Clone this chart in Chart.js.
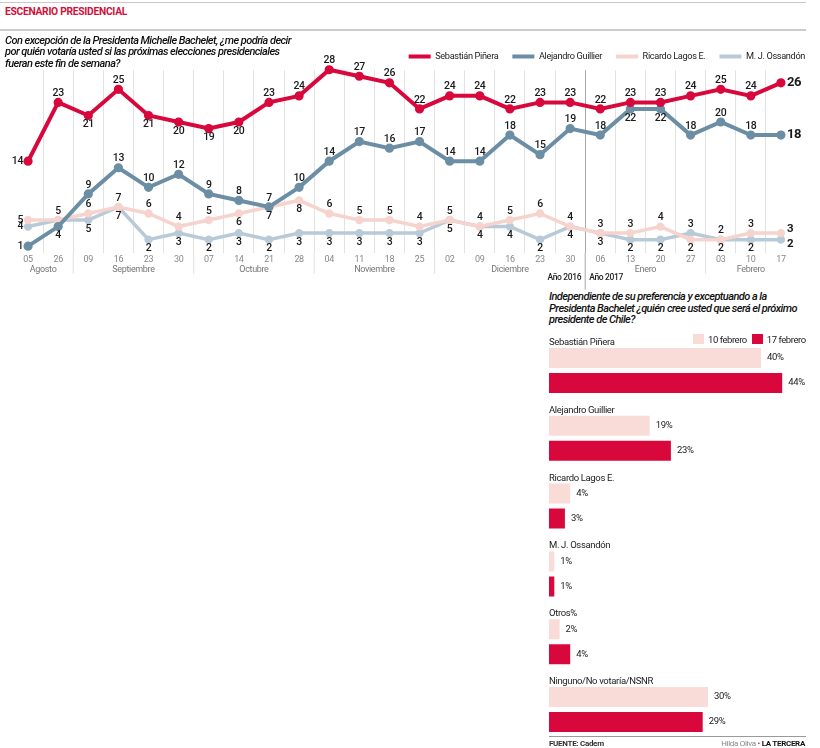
<!DOCTYPE html>
<html><head><meta charset="utf-8">
<script src="https://cdn.jsdelivr.net/npm/chart.js@4/dist/chart.umd.min.js"></script>
<style>
body{margin:0;background:#fff;width:820px;height:748px;position:relative;overflow:hidden;font-family:Roboto,sans-serif;color:#222;}
.abs{position:absolute;}
.q{font-style:italic;font-weight:500;font-size:11px;line-height:11.3px;color:#111;white-space:nowrap;letter-spacing:-0.55px;}
.leg{font-size:9.5px;letter-spacing:-0.45px;color:#222;white-space:nowrap;line-height:11px}
.sw{display:inline-block;width:11px;height:10px;vertical-align:-1px;margin-right:4px}
</style></head><body>
<div class="abs" style="left:0;top:2px;width:806px;height:1px;background:#c9c9c9"></div>
<div class="abs" style="left:5px;top:4px;font-weight:bold;color:#d0103a;font-size:11.5px;white-space:nowrap;letter-spacing:-0.3px;transform:scaleX(0.89);transform-origin:0 0">ESCENARIO PRESIDENCIAL</div>
<div class="abs" style="left:0;top:29px;width:806px;height:2px;background:#cccccc"></div>
<canvas id="lineChart" class="abs" width="820" height="252" style="left:0;top:38px"></canvas>
<div class="abs q" style="left:5px;top:35px">Con excepción de la Presidenta Michelle Bachelet, ¿me podría decir<br>por quién votaría usted si las próximas elecciones presidenciales<br>fueran este fin de semana?</div>
<div class="abs q" style="left:549px;top:291px;line-height:11.5px">Independiente de su preferencia y exceptuando a la<br>Presidenta Bachelet ¿quién cree usted que será el próximo<br>presidente de Chile?</div>
<canvas id="barChart" class="abs" width="275" height="420" style="left:545px;top:330px"></canvas>
<div class="abs leg" id="barLegend" style="left:693px;top:334px"></div>
<div class="abs" style="left:549px;top:736px;width:257px;height:1px;background:#9a9a9a"></div>
<div class="abs" style="left:549px;top:739px;font-size:8px;font-weight:bold;color:#333;letter-spacing:-0.3px">FUENTE: Cadem</div>
<div class="abs" style="right:15px;top:739px;font-size:8px;color:#888;white-space:nowrap;letter-spacing:-0.3px">Hilda Oliva <span style="color:#d0103a">•</span> <b style="color:#111">LA TERCERA</b></div>
<script>
// ---------- line chart data ----------
const days = ['05','26','09','16','23','30','07','14','21','28','04','11','18','25','02','09','16','23','30','06','13','20','27','03','10','17'];
const months = ['Agosto','Agosto','Septiembre','Septiembre','Septiembre','Septiembre','Octubre','Octubre','Octubre','Octubre','Noviembre','Noviembre','Noviembre','Noviembre','Diciembre','Diciembre','Diciembre','Diciembre','Diciembre','Enero','Enero','Enero','Enero','Febrero','Febrero','Febrero'];
const years = [2016,2016,2016,2016,2016,2016,2016,2016,2016,2016,2016,2016,2016,2016,2016,2016,2016,2016,2016,2017,2017,2017,2017,2017,2017,2017];
const pinera   = [14,23,21,25,21,20,19,20,23,24,28,27,26,22,24,24,22,23,23,22,23,23,24,25,24,26];
const guillier = [1,4,9,13,10,12,9,8,7,10,14,17,16,17,14,14,18,15,19,18,22,22,18,20,18,18];
const lagos    = [5,5,6,7,6,4,5,6,7,8,6,5,5,4,5,4,5,6,4,3,3,4,2,2,3,3];
const ossandon = [4,5,5,7,2,3,2,3,2,3,3,3,3,3,5,4,4,2,4,3,2,2,3,2,2,2];
const seriesNames = ['Sebastián Piñera','Alejandro Guillier','Ricardo Lagos E.','M. J. Ossandón'];

// ---------- bar chart data ----------
const barCats = ['Sebastián Piñera','Alejandro Guillier','Ricardo Lagos E.','M. J. Ossandón','Otros%','Ninguno/No votaría/NSNR'];
const feb10 = [40,19,4,1,2,30];
const feb17 = [44,23,3,1,4,29];
const barSeries = ['10 febrero','17 febrero'];

const FONT = 'Roboto, sans-serif';
Chart.defaults.font.family = FONT;
Chart.defaults.color = '#222';

const RED = '#d8083c', BLUE = '#6b8ea4', PINK = '#f6d3cd', LBLUE = '#b8cad7';
const BAR_LIGHT = '#f9dcd8', BAR_DARK = '#d8083c';

const tightText = {
  id:'tightText',
  beforeUpdate(chart){ chart.ctx.letterSpacing = '-0.35px'; },
  beforeDraw(chart){ chart.ctx.letterSpacing = '-0.35px'; }
};

// legend block: shorter and pushed to the right edge
const legendTweak = {
  id:'legendTweak',
  beforeInit(chart){
    const fit = chart.legend.fit;
    chart.legend.fit = function(){
      fit.call(this);
      this.height -= 8;
      if (this.lineWidths) this.lineWidths = this.lineWidths.map(w => w + 1);
    };
  },
  afterLayout(chart){ chart.legend.left += 24; chart.legend.right += 24; }
};

// grid lines start a little below the top of the plot area
const gridTopTrim = {
  id:'gridTopTrim',
  beforeDatasetsDraw(chart){
    const a = chart.chartArea, ctx = chart.ctx;
    ctx.save(); ctx.fillStyle = '#fff';
    ctx.fillRect(a.left, a.top - 1, a.right - a.left, 8);
    ctx.restore();
  }
};

// placement of value labels (style only)
const labelSides = [
  {def:'above', below:[2,4,5,6,7], skip:[]},
  {def:'above', below:[1,20,21], skip:[]},
  {def:'above', below:[7,8,9,22], skip:[]},
  {def:'below', above:[22], skip:[1]}
];

const valueLabelPlugin = {
  id:'valueLabels',
  afterDatasetsDraw(chart){
    const ctx = chart.ctx;
    ctx.save();
    chart.data.datasets.forEach((ds, di) => {
      const meta = chart.getDatasetMeta(di);
      const cfg = labelSides[di];
      const n = ds.data.length;
      meta.data.forEach((pt, i) => {
        if (cfg.skip.includes(i)) return;
        const v = ds.data[i];
        const x = pt.x, y = pt.y;
        ctx.fillStyle = '#1a1a1a';
        ctx.textBaseline = 'middle';
        if (i === 0) {
          ctx.font = '500 10.5px ' + FONT; ctx.textAlign = 'right';
          ctx.fillText(v, x - 5, y);
        } else if (i === n - 1) {
          const big = di < 2;
          ctx.font = (big ? 'bold 13px ' : 'bold 11.5px ') + FONT; ctx.textAlign = 'left';
          ctx.fillText(v, x + 6, y + (di === 2 ? -4 : di === 3 ? 4 : 0));
        } else {
          let side = cfg.def;
          if (cfg.below && cfg.below.includes(i)) side = 'below';
          if (cfg.above && cfg.above.includes(i)) side = 'above';
          ctx.font = '500 10.5px ' + FONT; ctx.textAlign = 'center';
          ctx.fillText(v, x, side === 'above' ? y - 9 : y + 9);
        }
      });
    });
    ctx.restore();
  }
};

const monthPlugin = {
  id:'months',
  afterDraw(chart){
    const ctx = chart.ctx, xs = chart.scales.x, area = chart.chartArea;
    ctx.save();
    ctx.font = '9px ' + FONT; ctx.fillStyle = '#777'; ctx.textAlign = 'center'; ctx.textBaseline = 'middle';
    let start = 0;
    for (let i = 1; i <= months.length; i++) {
      if (i === months.length || months[i] !== months[start]) {
        const cx = (xs.getPixelForValue(start) + xs.getPixelForValue(i - 1)) / 2;
        ctx.fillText(months[start], cx, area.bottom + 17);
        if (i < months.length) {
          const bx = (xs.getPixelForValue(i - 1) + xs.getPixelForValue(i)) / 2;
          const yearChange = years[i] !== years[i - 1];
          ctx.strokeStyle = yearChange ? '#a8a8a8' : '#e0e0e0';
          ctx.lineWidth = 1;
          ctx.beginPath(); ctx.moveTo(bx, area.bottom); ctx.lineTo(bx, area.bottom + (yearChange ? 37 : 21)); ctx.stroke();
          if (yearChange) {
            ctx.fillStyle = '#222'; ctx.font = '500 8.5px ' + FONT;
            ctx.textAlign = 'right'; ctx.fillText('Año ' + years[i - 1], bx - 4, area.bottom + 25);
            ctx.textAlign = 'left'; ctx.fillText('Año ' + years[i], bx + 4, area.bottom + 25);
            ctx.textAlign = 'center'; ctx.fillStyle = '#777'; ctx.font = '9px ' + FONT;
          }
        }
        start = i;
      }
    }
    ctx.restore();
  }
};

function gridColor(c){
  if (c.type !== 'tick' || c.index === 0) return 'rgba(0,0,0,0)';
  if (years[c.index] !== years[c.index - 1]) return '#a8a8a8';
  return '#e2e2e2';
}

new Chart(document.getElementById('lineChart'), {
  type:'line',
  data:{
    labels: days,
    datasets:[
      {label:seriesNames[0], data:pinera, borderColor:RED, backgroundColor:RED, borderWidth:4, pointRadius:2.6},
      {label:seriesNames[1], data:guillier, borderColor:BLUE, backgroundColor:BLUE, borderWidth:4, pointRadius:2.6},
      {label:seriesNames[2], data:lagos, borderColor:PINK, backgroundColor:PINK, borderWidth:3.5, pointRadius:2.4},
      {label:seriesNames[3], data:ossandon, borderColor:LBLUE, backgroundColor:LBLUE, borderWidth:3.5, pointRadius:2.4}
    ]
  },
  options:{
    responsive:false, animation:false,
    layout:{padding:{left:13, right:24, top:0, bottom:22.5}},
    elements:{line:{tension:0}, point:{borderWidth:0, hoverRadius:3}},
    plugins:{
      tooltip:{enabled:false},
      legend:{
        position:'top', align:'end',
        labels:{
          boxWidth:22, boxHeight:4, padding:14, color:'#222',
          font:{size:9.2},
          generateLabels(chart){
            return chart.data.datasets.map((ds, i) => ({
              text: ds.label, fillStyle: ds.borderColor, strokeStyle: ds.borderColor,
              lineWidth: 0, hidden:false, datasetIndex:i, fontColor:'#222'
            }));
          }
        }
      }
    },
    scales:{
      x:{
        offset:true,
        grid:{offset:true, color:gridColor, drawTicks:false, lineWidth:1},
        border:{display:false},
        ticks:{color:'#888', font:{size:9}, padding:2, autoSkip:false, maxRotation:0}
      },
      y:{display:false, min:0, max:29}
    }
  },
  plugins:[tightText, legendTweak, gridTopTrim, valueLabelPlugin, monthPlugin]
});

// ---------- bar chart ----------
const barLabelPlugin = {
  id:'barLabels',
  afterDatasetsDraw(chart){
    const ctx = chart.ctx, area = chart.chartArea, ys = chart.scales.y;
    const band = area.height / barCats.length;
    ctx.save();
    ctx.font = '9.5px ' + FONT; ctx.fillStyle = '#222'; ctx.textBaseline = 'middle';
    barCats.forEach((c, i) => {
      ctx.textAlign = 'left';
      ctx.fillText(c, area.left, ys.getPixelForValue(i) - band / 2 + 6);
    });
    chart.data.datasets.forEach((ds, di) => {
      chart.getDatasetMeta(di).data.forEach((bar, i) => {
        ctx.textAlign = 'left';
        ctx.fillText(ds.data[i] + '%', bar.x + 6, bar.y);
      });
    });
    ctx.restore();
  }
};

const barColors = [BAR_LIGHT, BAR_DARK];
const barChart = new Chart(document.getElementById('barChart'), {
  type:'bar',
  data:{
    labels: barCats,
    datasets:[
      {label:barSeries[0], data:feb10, backgroundColor:barColors[0], categoryPercentage:0.737, barPercentage:0.8},
      {label:barSeries[1], data:feb17, backgroundColor:barColors[1], categoryPercentage:0.737, barPercentage:0.8}
    ]
  },
  options:{
    indexAxis:'y', responsive:false, animation:false,
    layout:{padding:{left:4, right:16.6, top:6.6, bottom:6.6}},
    plugins:{ tooltip:{enabled:false}, legend:{display:false} },
    scales:{
      x:{display:false, min:0, max:48},
      y:{display:false}
    }
  },
  plugins:[tightText, barLabelPlugin]
});

// HTML legend for the bar chart, built from the chart's datasets
document.getElementById('barLegend').innerHTML = barChart.data.datasets.map((ds, i) =>
  '<span style="margin-right:' + (i === 0 ? 5 : 0) + 'px"><span class="sw" style="background:' + ds.backgroundColor + '"></span>' + ds.label + '</span>'
).join('');
</script>
</body></html>
